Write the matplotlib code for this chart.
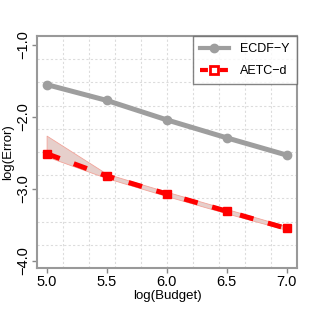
import numpy as np
import matplotlib.pyplot as plt
from matplotlib.lines import Line2D

plt.rcParams['font.family'] = ['Liberation Sans', 'DejaVu Sans']

budget = [5.0, 5.5, 6.0, 6.5, 7.0]
ecdf_y = [-1.55, -1.77, -2.04, -2.29, -2.53]
aetc_d = [-2.51, -2.82, -3.07, -3.31, -3.55]
aetc_lo = [-2.55, -2.85, -3.10, -3.34, -3.57]
aetc_hi = [-2.26, -2.79, -3.04, -3.28, -3.52]

fig = plt.figure(figsize=(3.16, 3.16), dpi=100)
ax = fig.add_axes([37/316, 48/316, 260/316, 232/316])

xlim = (4.92, 7.087)
ylim = (-4.10, -0.875)
ax.set_xlim(xlim)
ax.set_ylim(ylim)

# R-style grid: 10 equal divisions of the plot region
for gx in np.linspace(xlim[0], xlim[1], 11)[1:-1]:
    ax.axvline(gx, color='#dcdcdc', lw=0.8, ls=(0, (2, 2)), zorder=0)
for gy in np.linspace(ylim[0], ylim[1], 11)[1:-1]:
    ax.axhline(gy, color='#dcdcdc', lw=0.8, ls=(0, (2, 2)), zorder=0)

ax.fill_between(budget, aetc_lo, aetc_hi, facecolor='#e6cfcb', edgecolor='#f2a49a',
                lw=0.6, zorder=1)
ax.plot(budget, ecdf_y, color='#9e9e9e', lw=3.6, marker='o', ms=6, zorder=2)
ax.plot(budget, aetc_d, color='red', lw=3.6, ls=(0, (2.8, 3.0)), marker='s', ms=5.5,
        zorder=3)

ax.set_xticks([5.0, 5.5, 6.0, 6.5, 7.0])
ax.set_yticks([-1.0, -2.0, -3.0, -4.0])
ax.set_xticklabels(['5.0', '5.5', '6.0', '6.5', '7.0'], fontsize=10.5)
ax.set_yticklabels(['\u22121.0', '\u22122.0', '\u22123.0', '\u22124.0'], fontsize=10.5,
                   rotation=90, va='center')
ax.tick_params(colors='#888888', labelcolor='black', length=3.5, width=1, pad=1.5)
for s in ax.spines.values():
    s.set_color('#999999')
    s.set_linewidth(1.5)

ax.set_xlabel('log(Budget)', fontsize=9.5, labelpad=1)
ax.set_ylabel('log(Error)', fontsize=9.5, va='center')
ax.yaxis.set_label_coords(-29/260, 0.5)

handles = [
    Line2D([], [], color='#9e9e9e', lw=3, marker='o', ms=6),
    Line2D([], [], color='red', lw=3, ls=(0, (1.9, 2.9)), marker='s', ms=5.5, mfc='white',
           mew=2),
]
leg = ax.legend(handles, ['ECDF\u2212Y', 'AETC\u2212d'], loc='upper right', fontsize=9,
                frameon=True, fancybox=False, borderaxespad=0, handlelength=2.3,
                borderpad=0.6, labelspacing=0.75, handletextpad=0.9)
leg.get_frame().set_edgecolor('#666666')
leg.get_frame().set_linewidth(1.0)

fig.savefig('out.png', dpi=100)
